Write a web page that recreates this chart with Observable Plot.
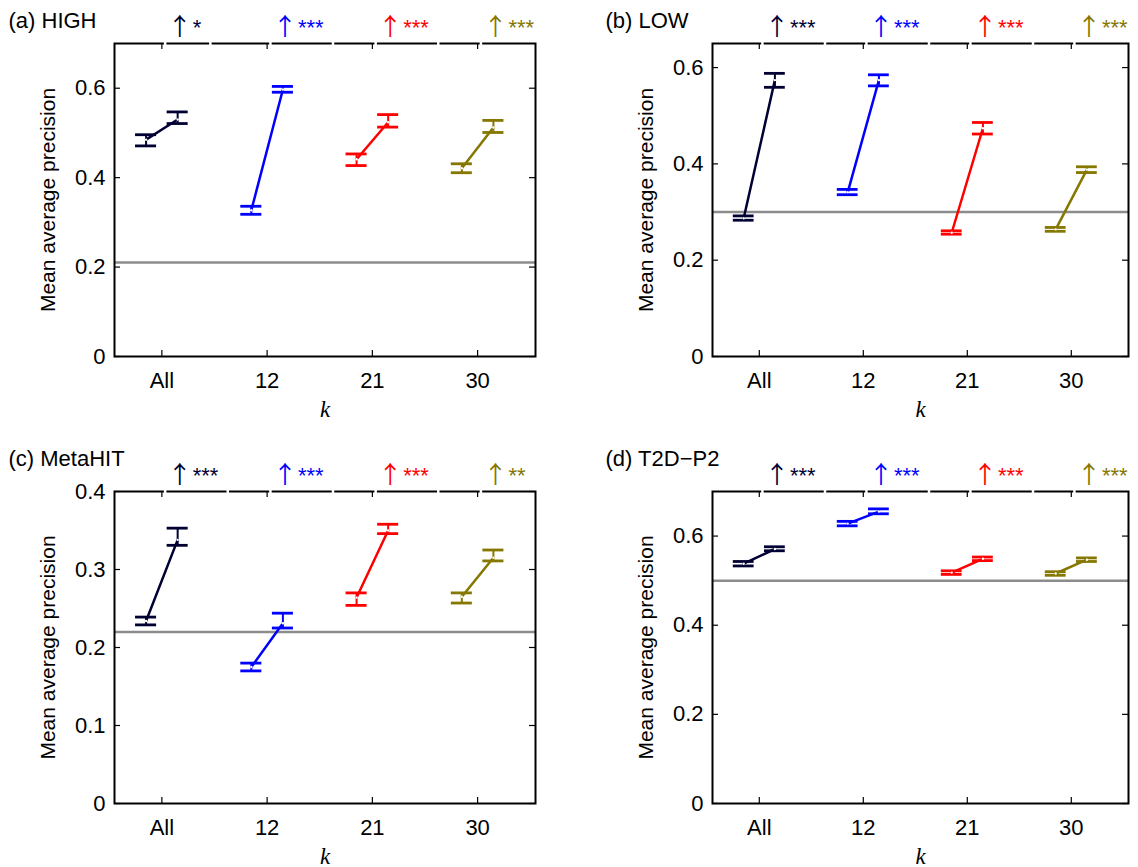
<!DOCTYPE html>
<html><head><meta charset="utf-8">
<script src="https://cdn.jsdelivr.net/npm/d3@7"></script>
<script src="https://cdn.jsdelivr.net/npm/@observablehq/plot@0.6"></script>
<style>
body{margin:0;background:#fff;}
#wrap{position:relative;width:1138px;height:867px;overflow:hidden;}
.panel{position:absolute;}
</style>
</head><body><div id="wrap"></div>
<script>
// ---- data ----
const groups = ["All", "12", "21", "30"];
const groupColors = ["#000033", "#0000ff", "#ff0000", "#857700"];
const panelTitles = ["(a) HIGH", "(b) LOW", "(c) MetaHIT", "(d) T2D\u2212P2"];
const baselines = [0.21, 0.30, 0.22, 0.50];
const yMaxes = [0.7, 0.65, 0.4, 0.7];
const yTickSets = [[0, 0.2, 0.4, 0.6], [0, 0.2, 0.4, 0.6], [0, 0.1, 0.2, 0.3, 0.4], [0, 0.2, 0.4, 0.6]];
const starLabels = [
  ["*", "***", "***", "***"],
  ["***", "***", "***", "***"],
  ["***", "***", "***", "**"],
  ["***", "***", "***", "***"]
];
// [mean, lower, upper] per k group
const highBefore = [[0.485, 0.471, 0.496], [0.327, 0.318, 0.336], [0.441, 0.427, 0.453], [0.421, 0.411, 0.431]];
const highAfter  = [[0.530, 0.521, 0.547], [0.597, 0.591, 0.604], [0.524, 0.513, 0.541], [0.512, 0.501, 0.528]];
const lowBefore  = [[0.287, 0.283, 0.292], [0.341, 0.336, 0.347], [0.257, 0.254, 0.261], [0.264, 0.260, 0.268]];
const lowAfter   = [[0.574, 0.559, 0.588], [0.574, 0.562, 0.585], [0.474, 0.462, 0.486], [0.388, 0.382, 0.394]];
const metaBefore = [[0.234, 0.229, 0.239], [0.175, 0.170, 0.180], [0.264, 0.254, 0.270], [0.265, 0.257, 0.270]];
const metaAfter  = [[0.338, 0.331, 0.353], [0.231, 0.225, 0.244], [0.350, 0.346, 0.358], [0.315, 0.311, 0.325]];
const t2dBefore  = [[0.538, 0.533, 0.543], [0.628, 0.623, 0.633], [0.518, 0.514, 0.522], [0.516, 0.512, 0.520]];
const t2dAfter   = [[0.571, 0.567, 0.576], [0.655, 0.650, 0.661], [0.549, 0.545, 0.553], [0.547, 0.543, 0.551]];

const panelData = [[highBefore, highAfter], [lowBefore, lowAfter], [metaBefore, metaAfter], [t2dBefore, t2dAfter]];

// ---- layout ----
const panelBoxes = [
  {left: 0,   top: 0,   width: 569, height: 433, ml: 114, mr: 34, mt: 43, mb: 77},
  {left: 569, top: 0,   width: 569, height: 433, ml: 143, mr: 10, mt: 43, mb: 77},
  {left: 0,   top: 433, width: 569, height: 434, ml: 114, mr: 34, mt: 58, mb: 64},
  {left: 569, top: 433, width: 569, height: 434, ml: 143, mr: 10, mt: 58, mb: 64}
];
const titleX = [8, 36, 8, 36];
const titleY = [20, 20, 25, 25];
const OFF = 0.15, CAP = 0.1;
const FONT = "Liberation Sans, Arial, Helvetica, sans-serif";

const wrap = document.getElementById("wrap");

panelData.forEach(([before, after], p) => {
  const box = panelBoxes[p];
  const iw = box.width - box.ml - box.mr;
  const ih = box.height - box.mt - box.mb;
  const pxPerUnit = iw / 4;
  const rows = [];
  groups.forEach((g, i) => {
    [[before, -1], [after, 1]].forEach(([arr, side]) => {
      rows.push({g, k: i + 1, x: i + 1 + side * OFF, mean: arr[i][0], lo: arr[i][1], hi: arr[i][2], color: groupColors[i], side});
    });
  });
  const afterRows = rows.filter(d => d.side === 1).map((d, i) => ({...d, stars: starLabels[p][i]}));
  // small white gaps in the top border where the annotation text boxes sit
  const gaps = [];
  afterRows.forEach(d => {
    gaps.push(d.x - 12.5 / pxPerUnit);
    gaps.push(d.x + (24 + d.stars.length * 8.7) / pxPerUnit);
  });
  const yt = yTickSets[p];
  const kt = [1, 2, 3, 4];

  const chart = Plot.plot({
    width: box.width, height: box.height,
    marginLeft: box.ml, marginRight: box.mr, marginTop: box.mt, marginBottom: box.mb,
    style: {fontFamily: FONT, fontSize: "22px", background: "white", overflow: "visible"},
    x: {domain: [0.55, 4.55]},
    y: {domain: [0, yMaxes[p]]},
    marks: [
      Plot.ruleY([baselines[p]], {stroke: "#8c8c8c", strokeWidth: 2.5}),
      Plot.line(rows, {x: "x", y: "mean", z: "g", stroke: "color", strokeWidth: 2.5}),
      Plot.ruleX(rows, {x: "x", y1: "lo", y2: "hi", stroke: "color", strokeWidth: 2}),
      Plot.ruleY(rows, {y: "lo", x1: d => d.x - CAP, x2: d => d.x + CAP, stroke: "color", strokeWidth: 2.8}),
      Plot.ruleY(rows, {y: "hi", x1: d => d.x - CAP, x2: d => d.x + CAP, stroke: "color", strokeWidth: 2.8}),
      Plot.dot(rows, {x: "x", y: "mean", r: 1.2, fill: "white", stroke: null}),
      Plot.frame({stroke: "black", strokeWidth: 2}),
      Plot.tickX(gaps.filter(g => g < 4.53), {x: d => d, insetTop: -2, insetBottom: ih - 2, stroke: "white", strokeWidth: 2.5}),
      Plot.tickY(yt, {y: d => d, insetRight: iw - 6, stroke: "black", strokeWidth: 1.2}),
      Plot.tickY(yt, {y: d => d, insetLeft: iw - 6, stroke: "black", strokeWidth: 1.2}),
      Plot.tickX(kt, {x: d => d, insetTop: ih - 6, stroke: "black", strokeWidth: 1.2}),
      Plot.tickX(kt, {x: d => d, insetBottom: ih - 6, stroke: "black", strokeWidth: 1.2}),
      Plot.axisY(yt, {tickSize: 0, tickPadding: 9, label: null, fontSize: 22, tickFormat: d => d === 0 ? "0" : d3.format(".1f")(d)}),
      Plot.axisX(kt, {tickSize: 0, tickPadding: 16, label: null, fontSize: 22, tickFormat: d => groups[d - 1]}),
      Plot.text([panelTitles[p]], {frameAnchor: "top-left", dx: titleX[p] - box.ml, dy: titleY[p] - box.mt, textAnchor: "start", lineAnchor: "middle", fontSize: 22, fill: "black"}),
      Plot.text(["Mean average precision"], {frameAnchor: "left", rotate: -90, dx: -66, textAnchor: "middle", lineAnchor: "middle", fontSize: 21, fill: "black"}),
      Plot.text(["k"], {frameAnchor: "bottom", dy: 60, lineAnchor: "bottom", fontSize: 23, fontStyle: "italic", fontFamily: "Liberation Serif, DejaVu Serif, serif", fill: "black"}),
      Plot.text(afterRows, {x: "x", frameAnchor: "top", text: () => "\u2191", dx: 2, dy: -9, lineAnchor: "bottom", fill: "color", fontSize: 24, fontFamily: "Noto Sans CJK SC, DejaVu Sans, sans-serif"}),
      Plot.text(afterRows, {x: "x", frameAnchor: "top", text: "stars", dx: 15, dy: -9, lineAnchor: "bottom", textAnchor: "start", fill: "color", fontSize: 22, fontFamily: FONT})
    ]
  });
  chart.classList.add("panel");
  chart.style.left = box.left + "px";
  chart.style.top = box.top + "px";
  wrap.appendChild(chart);
});
</script>
</body></html>
